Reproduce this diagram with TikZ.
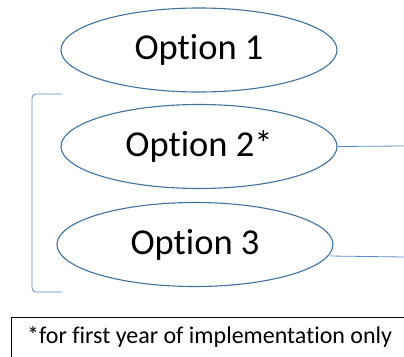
\documentclass[tikz,border=0pt]{standalone}
\usepackage{fontspec}
\setmainfont{Carlito}[Ligatures=NoCommon]
\usetikzlibrary{shapes.geometric}
\definecolor{ringblue}{HTML}{41719C}
\definecolor{linkblue}{HTML}{5B8BC5}
\tikzset{
  option/.style={draw=ringblue, line width=1.1pt, ellipse, minimum width=276pt, minimum height=84pt, inner sep=0pt, font=\fontsize{36.5}{36.5}\selectfont},
  link/.style={draw=linkblue, line width=0.8pt},
}
\begin{document}
\begin{tikzpicture}[x=1pt,y=-1pt]
\useasboundingbox (0,0) rectangle (404,356);
\node[option] (o1) at (199,50) {Option 1};
\node[option] (o2) at (199,146.5) {Option 2*};
\node[option] (o3) at (195,244.5) {Option 3};
% bracket grouping options 2 and 3
\coordinate (bt) at (62,94);
\coordinate (bb) at (62,292);
\draw[link] (bt) -- (36,94) to[out=180,in=90] (32,98) -- (32,288) to[out=-90,in=180] (36,292) -- (bb);
% connectors leaving to the right
\coordinate (r2) at (404,146);
\coordinate (s3) at (330,256);
\coordinate (r3) at (404,257);
\draw[link] (o2.east) -- (r2);
\draw[link] (s3) -- (r3);
% footnote box
\node[draw=black, line width=1.1pt, anchor=north west, minimum width=420pt, minimum height=50pt, inner sep=0pt] (note) at (11,317) {};
\node[anchor=west, font=\fontsize{24}{24}\selectfont, inner sep=0pt] (notetext) at (27,337) {*for first year of implementation only};
\end{tikzpicture}
\end{document}
